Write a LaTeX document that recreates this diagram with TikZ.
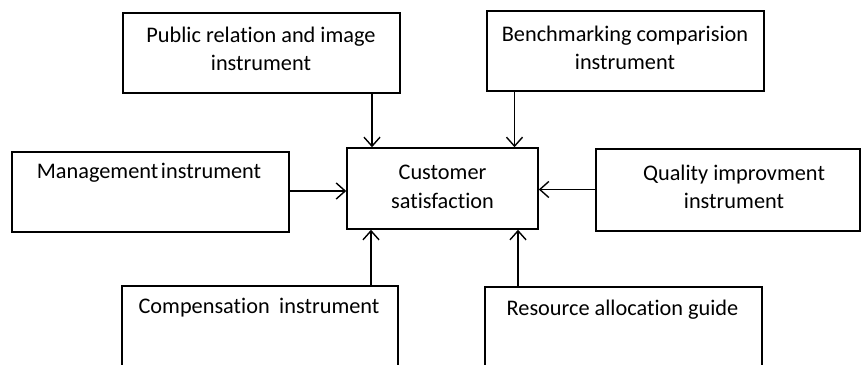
\documentclass[tikz,border=0pt]{standalone}
\usepackage{fontspec}
\setmainfont{Carlito}[RawFeature={-liga;-clig}]
\usetikzlibrary{arrows.meta}
\begin{document}
\begin{tikzpicture}[x=1pt,y=-1pt,
  box/.style={draw,line width=1.5pt,inner sep=0pt},
  lbl/.style={align=center,inner sep=0pt,font=\fontsize{22.3}{28.5}\selectfont},
  arr/.style={line width=1.4pt,-{Straight Barb[length=9pt,width=16pt,line width=1.4pt]}}]
\useasboundingbox (0,0) rectangle (861,364);
\clip (0,0) rectangle (861,364);
% boxes
\node[box,minimum width=277pt,minimum height=80pt] (pr) at (261.5,53) {};
\node[box,minimum width=277pt,minimum height=80pt] (bm) at (625.5,51) {};
\node[box,minimum width=277pt,minimum height=80pt] (mg) at (150.5,192) {};
\node[box,minimum width=191pt,minimum height=81pt] (cs) at (442.5,188.5) {};
\node[box,minimum width=264pt,minimum height=82pt] (qi) at (728,190) {};
\node[box,minimum width=276pt,minimum height=100pt] (cp) at (260,336) {};
\node[box,minimum width=277pt,minimum height=100pt] (ra) at (623.5,337) {};
% texts
\node[lbl] (tpr) at (261,49) {Public relation and image\\instrument};
\node[lbl] (tbm) at (625,48) {Benchmarking comparision\\instrument};
\node[lbl] (tmg) at (149,173) {Management\hspace{0.12em}instrument};
\node[lbl] (tcs) at (442.5,187) {Customer\\satisfaction};
\node[lbl] (tqi) at (734,187) {Quality improvment\\instrument};
\node[lbl] (tcp) at (259,308) {Compensation\hspace{0.2em} instrument};
\node[lbl] (tra) at (622.5,310) {Resource allocation guide};
% arrow x/y positions
\coordinate (xpr) at (372,0);
\coordinate (xbm) at (514.5,0);
\coordinate (ymg) at (0,191);
\coordinate (yqi) at (0,189.5);
\coordinate (xcp) at (371,0);
\coordinate (xra) at (518,0);
% arrows
\draw[arr] (pr.south -| xpr) -- (cs.north -| xpr);
\draw[arr] (bm.south -| xbm) -- (cs.north -| xbm);
\draw[arr] (mg.east |- ymg) -- (cs.west |- ymg);
\draw[arr] (qi.west |- yqi) -- (cs.east |- yqi);
\draw[arr] (cp.north -| xcp) -- (cs.south -| xcp);
\draw[arr] (ra.north -| xra) -- (cs.south -| xra);
\end{tikzpicture}
\end{document}
